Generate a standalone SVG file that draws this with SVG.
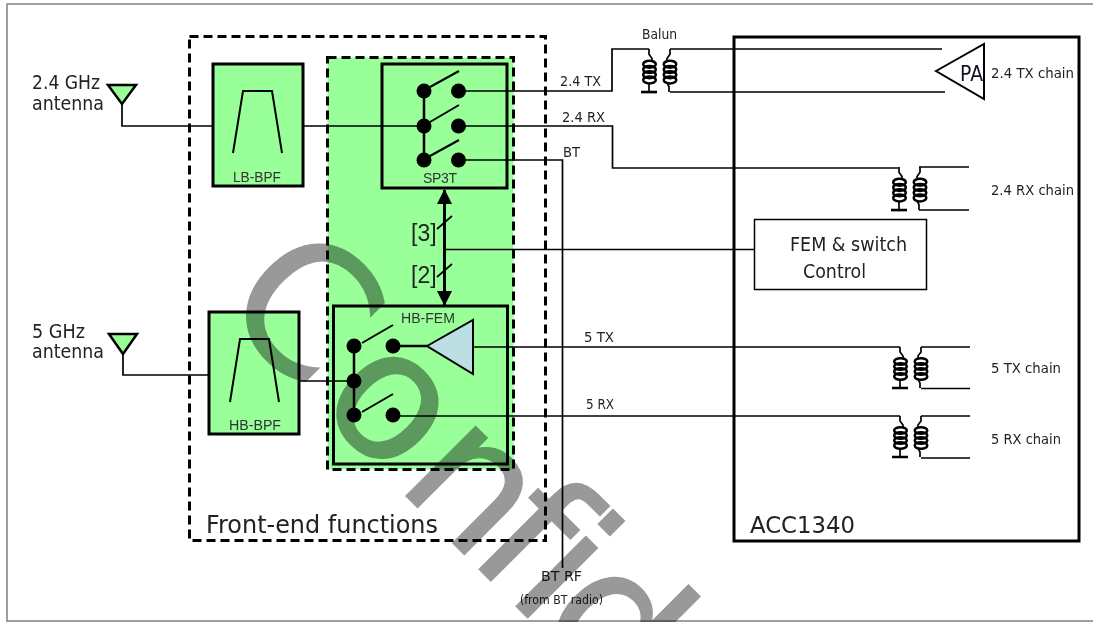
<svg xmlns="http://www.w3.org/2000/svg" width="1093" height="622" viewBox="0 0 1093 622">
<style>
.w{fill:none;stroke:#000;stroke-width:1.7}
.box{fill:#99ff99;stroke:#000;stroke-width:3}
.dash{stroke:#000;stroke-width:3;stroke-dasharray:9 5}
.sw{fill:none;stroke:#000;stroke-width:2}
.t{font-family:"DejaVu Sans",sans-serif;fill:#222}
.a{font-family:"Liberation Sans",Arial,sans-serif;fill:#333;font-size:14px}
.s13{font-size:14px}
.s18{font-size:19px}
</style>
<defs>
<g id="xf">
<path class="w" d="M0 0V5L3 9V12M0 33V41"/>
<path fill="none" stroke="#000" stroke-width="2.500" d="M-8 41H8"/>
<path class="w" d="M21 0V5L18 9V12M18 32L20 36V41"/>
<g fill="none" stroke="#000" stroke-width="2.500">
<ellipse cx="0.500" cy="14.500" rx="6.300" ry="3.300"/><ellipse cx="0.500" cy="19.500" rx="6.300" ry="3.300"/><ellipse cx="0.500" cy="24.500" rx="6.300" ry="3.300"/><ellipse cx="0.500" cy="29.500" rx="6.300" ry="3.300"/>
<ellipse cx="21" cy="14.500" rx="6.300" ry="3.300"/><ellipse cx="21" cy="19.500" rx="6.300" ry="3.300"/><ellipse cx="21" cy="24.500" rx="6.300" ry="3.300"/><ellipse cx="21" cy="29.500" rx="6.300" ry="3.300"/>
</g>
</g>
<marker id="head" viewBox="0 0 15 15" refX="14" refY="7.500" markerWidth="15" markerHeight="15" markerUnits="userSpaceOnUse" orient="auto-start-reverse"><path d="M0 0L15 7.500L0 15Z"/></marker>
</defs>
<rect width="1093" height="622" fill="#fff"/>
<path d="M1093 4H7V621H1093" fill="none" stroke="#808080" stroke-width="1.500"/>

<g id="front-end">
<rect class="dash" x="189.500" y="36.500" width="356" height="504" fill="none"/>
<text class="t" x="206" y="533" font-size="25" textLength="232" lengthAdjust="spacingAndGlyphs">Front-end functions</text>
</g>
<g id="fem-region"><rect class="dash" x="327.500" y="57.500" width="186" height="412" fill="#99ff99"/></g>
<g id="acc1340">
<rect x="734" y="37" width="345" height="504" fill="none" stroke="#000" stroke-width="3"/>
<text class="t" x="750" y="533" font-size="23" textLength="105" lengthAdjust="spacingAndGlyphs">ACC1340</text>
</g>

<g id="connectors">
<path class="w" d="M122 104V126H213M303 126H424M123 354V375H209M299 381H354"/>
<path class="w" d="M458 91H612V49H649M670 49H942M670 92H945"/>
<path class="w" d="M458 126H612.500V168H898M919 167H969M919 210H969"/>
<path class="w" d="M458 160H562.500V568"/>
<path class="w" d="M445 249.500H754"/>
<path class="w" d="M471 347H900M921 347H970M921 388.500H970"/>
<path class="w" d="M393 416H900M921 416H970M921 458H970"/>
<path d="M444.500 190V305" stroke="#000" stroke-width="3" fill="none" marker-start="url(#head)" marker-end="url(#head)"/>
<path class="w" d="M437 229L452 216M437 277L452 264"/>
</g>

<g id="antenna-24">
<path d="M108 85H136L122 104Z" fill="#99ff99" stroke="#000" stroke-width="2.500"/>
<text class="t s18" x="32" y="89" textLength="68" lengthAdjust="spacingAndGlyphs">2.4 GHz</text>
<text class="t s18" x="32" y="110" textLength="72" lengthAdjust="spacingAndGlyphs">antenna</text>
</g>
<g id="antenna-5">
<path d="M109 334H137L123 354Z" fill="#99ff99" stroke="#000" stroke-width="2.500"/>
<text class="t s18" x="32" y="338" textLength="53" lengthAdjust="spacingAndGlyphs">5 GHz</text>
<text class="t s18" x="32" y="358" textLength="72" lengthAdjust="spacingAndGlyphs">antenna</text>
</g>
<g id="lb-bpf">
<rect class="box" x="213" y="64" width="90" height="122"/>
<path class="sw" d="M233 153L243 91H272L282 153"/>
<text class="a" x="233" y="182" textLength="48" lengthAdjust="spacingAndGlyphs">LB-BPF</text>
</g>
<g id="hb-bpf">
<rect class="box" x="209" y="312" width="90" height="122"/>
<path class="sw" d="M230 402L240 339H269L279 402"/>
<text class="a" x="229" y="430" textLength="52" lengthAdjust="spacingAndGlyphs">HB-BPF</text>
</g>
<g id="sp3t">
<rect x="382" y="64" width="125" height="124" fill="none" stroke="#000" stroke-width="3"/>
<path d="M424 91V160" stroke="#000" stroke-width="2.500"/>
<path class="sw" d="M430 87L459 71M430 122L459 105M430 156L459 140"/>
<g><circle cx="424" cy="91" r="7.500"/><circle cx="458.500" cy="91" r="7.500"/><circle cx="424" cy="126" r="7.500"/><circle cx="458.500" cy="126" r="7.500"/><circle cx="424" cy="160" r="7.500"/><circle cx="458.500" cy="160" r="7.500"/></g>
<text class="a" x="423" y="183" textLength="34" lengthAdjust="spacing">SP3T</text>
</g>
<g id="hb-fem">
<rect x="333.500" y="306" width="174" height="158" fill="none" stroke="#000" stroke-width="3"/>
<path d="M354 346V415M393 346H427" stroke="#000" stroke-width="2.500"/>
<path class="sw" d="M362 343L393 325M362 412L393 394"/>
<path d="M427 346L473 320V374Z" fill="#bbdfe3" stroke="#000" stroke-width="2"/>
<g><circle cx="354" cy="346" r="7.500"/><circle cx="393" cy="346" r="7.500"/><circle cx="354" cy="381" r="7.500"/><circle cx="354" cy="415" r="7.500"/><circle cx="393" cy="415" r="7.500"/></g>
<text class="a" x="401" y="323" textLength="54" lengthAdjust="spacingAndGlyphs">HB-FEM</text>
</g>
<g id="bus-labels">
<text class="a" x="411" y="241" style="font-size:23px;fill:#222">[3]</text>
<text class="a" x="411" y="283" style="font-size:23px;fill:#222">[2]</text>
</g>
<g id="balun"><use href="#xf" transform="translate(649 49) scale(1 1.050)"/><text class="t s13" x="642" y="39" textLength="35" lengthAdjust="spacingAndGlyphs">Balun</text></g>
<g id="xf-24rx"><use href="#xf" transform="translate(899 167) scale(1 1.050)"/></g>
<g id="xf-5tx"><use href="#xf" x="900" y="347"/></g>
<g id="xf-5rx"><use href="#xf" x="900" y="416"/></g>
<g id="pa">
<path d="M936 71L984 44V99Z" fill="none" stroke="#000" stroke-width="2"/>
<text class="t" x="960" y="81" font-size="22" textLength="23" lengthAdjust="spacingAndGlyphs" style="fill:#112">PA</text>
</g>
<g id="fem-control">
<rect x="754.500" y="219.500" width="172" height="70" fill="#fff" stroke="#000" stroke-width="1.500"/>
<text class="t" x="790" y="251" font-size="20" textLength="117" lengthAdjust="spacingAndGlyphs">FEM &amp; switch</text>
<text class="t" x="803" y="278" font-size="20" textLength="63" lengthAdjust="spacingAndGlyphs">Control</text>
</g>
<g id="labels">
<text class="t s13" x="560" y="86" textLength="41" lengthAdjust="spacingAndGlyphs">2.4 TX</text>
<text class="t s13" x="562" y="122" textLength="43" lengthAdjust="spacingAndGlyphs">2.4 RX</text>
<text class="t s13" x="563" y="157" textLength="17" lengthAdjust="spacingAndGlyphs">BT</text>
<text class="t s13" x="584" y="342" textLength="30" lengthAdjust="spacingAndGlyphs">5 TX</text>
<text class="t s13" x="586" y="409" textLength="28" lengthAdjust="spacingAndGlyphs">5 RX</text>
<text class="t s13" x="991" y="78" textLength="83" lengthAdjust="spacingAndGlyphs">2.4 TX chain</text>
<text class="t s13" x="991" y="195" textLength="83" lengthAdjust="spacingAndGlyphs">2.4 RX chain</text>
<text class="t s13" x="991" y="373" textLength="70" lengthAdjust="spacingAndGlyphs">5 TX chain</text>
<text class="t s13" x="991" y="444" textLength="70" lengthAdjust="spacingAndGlyphs">5 RX chain</text>
<text class="t s13" x="541" y="581" textLength="41" lengthAdjust="spacingAndGlyphs">BT RF</text>
<text class="t" x="520" y="604" font-size="12" textLength="83" lengthAdjust="spacingAndGlyphs">(from BT radio)</text>
</g>
<g id="watermark" style="mix-blend-mode:multiply">
<text transform="translate(230 320) rotate(45)" x="-19 118.600 232.800 333 388 430" font-family="DejaVu Sans, sans-serif" font-size="180" fill="#999" stroke="#999" stroke-width="1.500">Confid</text>
</g>
</svg>
